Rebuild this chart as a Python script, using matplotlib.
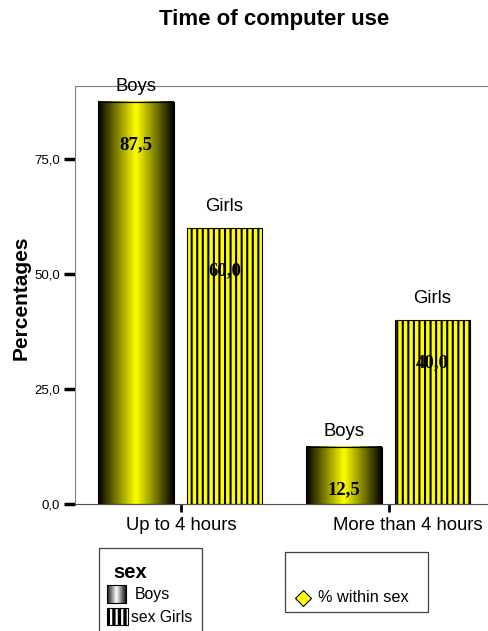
import numpy as np
import matplotlib
matplotlib.use('Agg')
import matplotlib.pyplot as plt
import matplotlib.transforms as mtransforms
from matplotlib.colors import LinearSegmentedColormap
from matplotlib.patches import Rectangle
from matplotlib.ticker import FuncFormatter

# data
categories = ['Up to 4 hours', 'More than 4 hours']
groups = ['Boys', 'Girls']
boys = [87.5, 12.5]
girls = [60.0, 40.0]
yticks = [0, 25, 50, 75]

W, H = 489, 631
plt.rcParams['font.family'] = ['Liberation Sans', 'DejaVu Sans']
plt.rcParams['hatch.linewidth'] = 1.5

fig = plt.figure(figsize=(W / 100, H / 100), dpi=100)
ax = fig.add_axes([75 / W, 127 / H, 414 / W, 418 / H])

x = np.arange(len(categories))
width = 0.365
off_b, off_g = -0.216, 0.209

# black -> yellow -> black shading for the boys bars
grad = np.linspace(0, 1, 256)[None, :]
cmap_y = LinearSegmentedColormap.from_list('by', ['black', '#ffff00', 'black'])
for xi, v in zip(x, boys):
    xc = xi + off_b
    ax.imshow(grad, cmap=cmap_y, aspect='auto', interpolation='bilinear',
              extent=[xc - width / 2, xc + width / 2, 0, v], zorder=1)
ax.bar(x + off_b, boys, width, facecolor='none', edgecolor='black',
       linewidth=0.8, zorder=2)
ax.bar(x + off_g, girls, width, facecolor='#ffff00', edgecolor='black',
       hatch='|||', linewidth=0.8, zorder=2)

# labels above bars and values inside
for name, vals, off, lift in [('Boys', boys, off_b, 15), ('Girls', girls, off_g, 22)]:
    for xi, v in zip(x, vals):
        ax.annotate(name, (xi + off, v), xytext=(0, lift * 0.72),
                    textcoords='offset points', ha='center', va='center',
                    fontsize=13.3, zorder=5)
        ax.annotate(f'{v:.1f}'.replace('.', ','), (xi + off, v),
                    xytext=(0, -43 * 0.72), textcoords='offset points',
                    ha='center', va='center', fontsize=13.5,
                    fontfamily='Liberation Serif', fontweight='bold', zorder=5)

ax.set_xlim(-0.5096, 1.4808)
ax.set_ylim(0, 90.87)
ax.spines['right'].set_visible(False)
ax.spines['left'].set_color('#808080')
ax.spines['top'].set_color('#808080')
ax.spines['bottom'].set_color('#505050')

ax.set_yticks(yticks)
ax.yaxis.set_major_formatter(FuncFormatter(lambda v, _: f'{v:.1f}'.replace('.', ',')))
ax.tick_params(axis='y', length=8, width=2.5, pad=3, labelsize=9.5, color='black')
ax.set_xticks(x, categories)
ax.tick_params(axis='x', length=6, width=2, pad=3, labelsize=13.3, color='black')
lab = ax.get_xticklabels()[1]
lab.set_transform(lab.get_transform() + mtransforms.ScaledTranslation(0.19, 0, fig.dpi_scale_trans))

fig.text(274 / W, 1 - 19 / H, 'Time of computer use', ha='center', va='center',
         fontsize=16, fontweight='bold')
fig.text(21 / W, 1 - 298 / H, 'Percentages', rotation=90, ha='center', va='center',
         fontsize=15, fontweight='bold')

# legend boxes, drawn in pixel coordinates
lax = fig.add_axes([0, 0, 1, 1])
lax.axis('off')
lax.add_patch(Rectangle((99, 548), 103, 100, fill=False, edgecolor='#404040', lw=0.9))
lax.add_patch(Rectangle((285, 552), 143, 60, fill=False, edgecolor='#404040', lw=0.9))
lax.text(113, 573, 'sex', fontsize=14.5, fontweight='bold', va='center')

cmap_g = LinearSegmentedColormap.from_list('gw', ['#101010', 'white', '#101010'])
lax.imshow(grad, cmap=cmap_g, aspect='auto', interpolation='bilinear',
           extent=[107, 126, 603, 585])
lax.add_patch(Rectangle((107, 585), 19, 18, fill=False, edgecolor='black', lw=0.8))
girls_patch = Rectangle((107, 608), 21, 17, facecolor='white', edgecolor='black',
                        hatch='|||', lw=0.8)
if hasattr(girls_patch, 'set_hatch_linewidth'):
    girls_patch.set_hatch_linewidth(2.4)
lax.add_patch(girls_patch)
lax.text(135, 594, 'Boys', fontsize=11.4, va='center')
lax.text(131, 617, 'sex Girls', fontsize=11.3, va='center')
lax.plot([303], [598], marker='D', ms=8.5, mfc='#ffff00', mec='black', mew=0.8)
lax.text(318, 598, '% within sex', fontsize=11.7, va='center')
lax.set_xlim(0, W)
lax.set_ylim(H, 0)

fig.savefig('out.png', dpi=100)
